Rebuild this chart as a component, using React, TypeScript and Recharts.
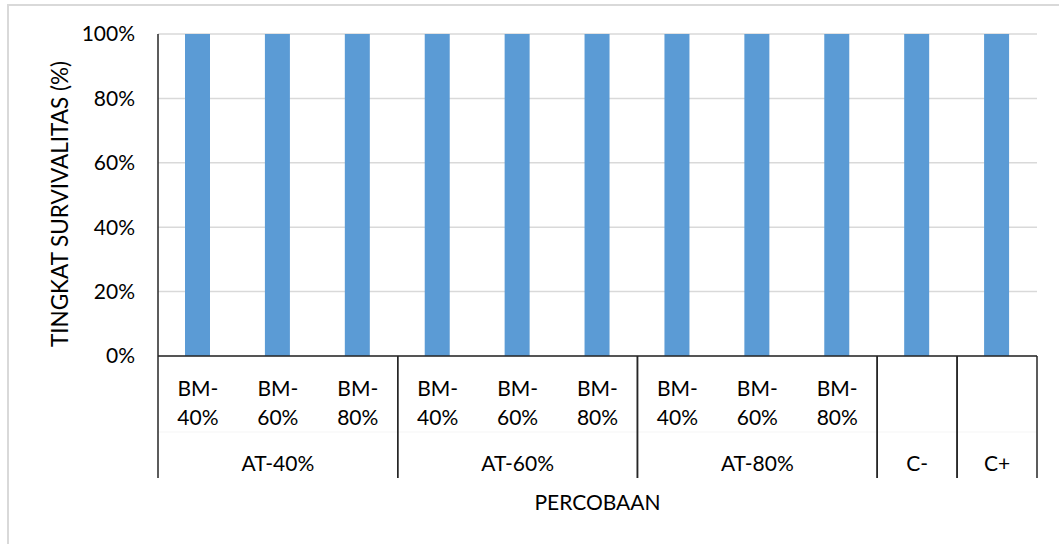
import { Bar, BarChart, CartesianGrid, Label, XAxis, YAxis } from "recharts";

const groups = [
  "AT-40%", "AT-40%", "AT-40%",
  "AT-60%", "AT-60%", "AT-60%",
  "AT-80%", "AT-80%", "AT-80%",
  "C-", "C+",
];
const subs = [
  "BM-40%", "BM-60%", "BM-80%",
  "BM-40%", "BM-60%", "BM-80%",
  "BM-40%", "BM-60%", "BM-80%",
  "", "",
];
const survival = [1, 1, 1, 1, 1, 1, 1, 1, 1, 1, 1];
const yTicks = [0, 0.2, 0.4, 0.6, 0.8, 1];

const data = subs.map((sub, i) => ({ sub, grp: groups[i], value: survival[i] }));

const FONT = "Lato, 'Open Sans', sans-serif";
const TEXT = "#000";
const AXIS = "#262626";
const PLOT_W = 879;

// two-line category label: "BM-" over "40%"
function SubTick(props: any) {
  const { x, y, payload } = props;
  const label: string = payload.value || "";
  if (!label) return null;
  const cut = label.indexOf("-") + 1;
  return (
    <text x={x} textAnchor="middle" fontFamily={FONT} fontSize={21} fill={TEXT}>
      <tspan x={x} y={y + 32}>{label.slice(0, cut)}</tspan>
      <tspan x={x} y={y + 61}>{label.slice(cut)}</tspan>
    </text>
  );
}

// group label centred under its categories, with separator lines at the group edges
function GroupTick(props: any) {
  const { x, y, payload } = props;
  const i: number = payload.index;
  const band = (props.width || PLOT_W) / data.length;
  const name = groups[i];
  const first = groups.indexOf(name);
  const last = groups.lastIndexOf(name);
  const mid = (first + last) / 2;
  return (
    <g>
      {i === first && (
        <line x1={x - band / 2} x2={x - band / 2} y1={y - 84} y2={y + 38} stroke={AXIS} strokeWidth={1.5} />
      )}
      {i === last && (
        <line x1={x + band / 2} x2={x + band / 2} y1={y - 84} y2={y + 38} stroke={AXIS} strokeWidth={1.5} />
      )}
      {i === Math.floor(mid) && (
        <text x={x + (mid - i) * band} y={y + 31} textAnchor="middle" fontFamily={FONT} fontSize={21} fill={TEXT}>
          {name}
        </text>
      )}
    </g>
  );
}

function YTitle(props: any) {
  const vb = props.viewBox || { x: 8, y: 34, width: 150, height: 322 };
  const cx = vb.x + 51;
  const cy = vb.y + vb.height / 2 + 9;
  return (
    <text
      x={cx}
      y={cy}
      transform={`rotate(-90 ${cx} ${cy})`}
      textAnchor="middle"
      dominantBaseline="central"
      fontFamily={FONT}
      fontSize={22.5}
      fill={TEXT}
    >
      TINGKAT SURVIVALITAS (%)
    </text>
  );
}

export default function App() {
  return (
    <div style={{ position: "absolute", left: 0, top: 0, width: 1059, height: 544, background: "#fff" }}>
      <div
        style={{
          position: "absolute",
          left: 7,
          top: 4,
          right: 0,
          bottom: 0,
          borderTop: "2px solid #d9d9d9",
          borderLeft: "2px solid #d9d9d9",
        }}
      />
      <BarChart
        width={1059}
        height={544}
        data={data}
        margin={{ top: 34, right: 22, left: 8, bottom: 66 }}
        style={{ position: "absolute", left: 0, top: 0 }}
      >
        <CartesianGrid xAxisId={0} vertical={false} stroke="#d9d9d9" strokeWidth={1.5} />
        <XAxis
          xAxisId={0}
          dataKey="sub"
          height={76}
          interval={0}
          tickLine={false}
          axisLine={{ stroke: AXIS, strokeWidth: 1.5 }}
          tick={<SubTick />}
        />
        <XAxis
          xAxisId={1}
          dataKey="grp"
          height={46}
          interval={0}
          tickLine={false}
          axisLine={{ stroke: "#f5f5f5", strokeWidth: 1 }}
          tick={<GroupTick />}
        >
          <Label
            value="PERCOBAAN"
            position="bottom"
            offset={17}
            style={{ fontFamily: FONT, fontSize: 21, fill: TEXT }}
          />
        </XAxis>
        <YAxis
          width={150}
          domain={[0, 1]}
          ticks={yTicks}
          interval={0}
          tickLine={false}
          tickMargin={17}
          axisLine={{ stroke: AXIS, strokeWidth: 1.5 }}
          tickFormatter={(v: number) => `${Math.round(v * 100)}%`}
          tick={{ fontFamily: FONT, fontSize: 21, fill: TEXT }}
        >
          <Label content={<YTitle />} />
        </YAxis>
        <Bar xAxisId={0} dataKey="value" fill="#5b9bd5" barSize={25} isAnimationActive={false} />
      </BarChart>
    </div>
  );
}
